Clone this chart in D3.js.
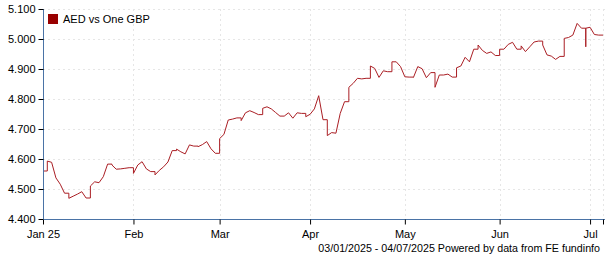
<!DOCTYPE html>
<html>
<head>
<meta charset="utf-8">
<script src="https://cdn.jsdelivr.net/npm/d3@7"></script>
<style>
  body { margin: 0; background: #fff; }
  svg { display: block; }
  text { font-family: "Liberation Sans", Arial, sans-serif; font-size: 11px; fill: #000; }
</style>
</head>
<body>
<div id="chart"></div>
<script>
var width = 605,
  height = 260,
  plotLeft = 43,
  plotRight = 603,
  plotTop = 9,
  plotBottom = 219;

// first and last trading day shown
var firstDay = "2025-01-03",
  lastDay = "2025-07-04";

// AED per GBP, one value per weekday from firstDay to lastDay
var rates = [
  4.560, 4.593, 4.589, 4.537, 4.516, 4.486, 4.469, 4.476, 4.483, 4.491,
  4.470, 4.510, 4.524, 4.521, 4.541, 4.583, 4.580, 4.566, 4.567, 4.569,
  4.571, 4.552, 4.580, 4.591, 4.567, 4.558, 4.547, 4.562, 4.574, 4.590,
  4.628, 4.633, 4.624, 4.617, 4.647, 4.643, 4.641, 4.648, 4.658, 4.634,
  4.619, 4.668, 4.682, 4.730, 4.733, 4.737, 4.728, 4.754, 4.761, 4.755,
  4.748, 4.769, 4.774, 4.767, 4.755, 4.743, 4.743, 4.754, 4.736, 4.754,
  4.752, 4.741, 4.749, 4.767, 4.811, 4.731, 4.678, 4.688, 4.686, 4.752,
  4.791, 4.839, 4.852, 4.869, 4.867, 4.869, 4.910, 4.902, 4.872, 4.894,
  4.891, 4.924, 4.924, 4.908, 4.874, 4.873, 4.872, 4.908, 4.901, 4.871,
  4.888, 4.839, 4.880, 4.880, 4.883, 4.873, 4.904, 4.910, 4.939, 4.924,
  4.966, 4.980, 4.962, 4.952, 4.957, 4.945, 4.966, 4.966, 4.982, 4.989,
  4.966, 4.977, 4.958, 4.974, 4.990, 4.993, 4.980, 4.947, 4.943, 4.932,
  4.942, 5.002, 5.005, 5.013, 5.052, 5.036, 5.036, 5.039, 5.015, 5.013,
  5.013
];

// odd weekend quotes (drawn at the following Monday)
var weekendDates = ["2025-06-29"],
  weekendRates = [4.974];

var yTicks = [4.4, 4.5, 4.6, 4.7, 4.8, 4.9, 5.0, 5.1];
var monthLabels = ["Jan 25", "Feb", "Mar", "Apr", "May", "Jun", "Jul"];
var seriesName = "AED vs One GBP";
var footer = "03/01/2025 - 04/07/2025 Powered by data from FE fundinfo";

var parse = d3.timeParse("%Y-%m-%d");
var days = d3.timeDay.range(parse(firstDay), d3.timeDay.offset(parse(lastDay), 1))
  .filter(function (d) { return d.getDay() % 6 !== 0; });

var x = d3.scalePoint()
  .domain(days.map(function (d) { return +d; }))
  .range([plotLeft, plotRight]);

var y = d3.scaleLinear()
  .domain([4.4, 5.1])
  .range([plotBottom, plotTop]);

// first weekday of every month gets a tick
var monthStarts = days.filter(function (d, i) {
  return i === 0 || d.getMonth() !== days[i - 1].getMonth();
});
var xTicks = monthStarts.map(function (d, i) { return { day: d, label: monthLabels[i] }; });
xTicks.push({ day: days[days.length - 1], label: "" });

// build line points; the weekend holds Friday's rate until Monday
var points = [];
days.forEach(function (d, i) {
  if (i > 0 && d.getDay() === 1) {
    points.push([x(+d), y(rates[i - 1])]);
    weekendDates.forEach(function (w, j) {
      var gap = d3.timeDay.count(parse(w), d);
      if (gap > 0 && gap < 3) {
        points.push([x(+d), y(weekendRates[j])]);
      }
    });
  }
  points.push([x(+d), y(rates[i])]);
});

var svg = d3.select("#chart").append("svg")
  .attr("width", width)
  .attr("height", height);

// grid
var grid = svg.append("g").attr("id", "grid")
  .attr("stroke", "#e6e6e6")
  .attr("stroke-dasharray", "2,3")
  .attr("shape-rendering", "crispEdges");

grid.selectAll("line.h")
  .data(yTicks.slice(1))
  .enter().append("line")
  .attr("class", "h")
  .attr("x1", plotLeft)
  .attr("x2", width)
  .attr("y1", function (d) { return Math.round(y(d)) + 0.5; })
  .attr("y2", function (d) { return Math.round(y(d)) + 0.5; });

grid.selectAll("line.v")
  .data(xTicks.slice(1))
  .enter().append("line")
  .attr("class", "v")
  .attr("x1", function (d) { return Math.round(x(+d.day)) + 0.5; })
  .attr("x2", function (d) { return Math.round(x(+d.day)) + 0.5; })
  .attr("y1", plotTop)
  .attr("y2", plotBottom);

// series line
svg.append("path")
  .datum(points)
  .attr("fill", "none")
  .attr("stroke", "#aa1e24")
  .attr("stroke-width", 1)
  .attr("stroke-linejoin", "round")
  .attr("d", d3.line());

// y axis
var yAxis = svg.append("g")
  .attr("transform", "translate(" + (plotLeft + 0.5) + ",0)")
  .call(d3.axisLeft(y).tickValues(yTicks).tickFormat(d3.format(".3f")).tickSize(5).tickSizeOuter(0));

// x axis
var xAxis = svg.append("g")
  .attr("transform", "translate(0," + (plotBottom + 0.5) + ")")
  .call(d3.axisBottom(x)
    .tickValues(xTicks.map(function (d) { return +d.day; }))
    .tickFormat(function (d, i) { return xTicks[i].label; })
    .tickSize(5)
    .tickSizeOuter(0));

[yAxis, xAxis].forEach(function (a) {
  a.select(".domain").attr("stroke", "#4a73a6");
  a.selectAll(".tick line").attr("stroke", "#000");
  a.selectAll("text").attr("font-family", null).attr("font-size", null).attr("fill", "#000");
});
xAxis.select(".domain").attr("d", "M" + plotLeft + ",0H" + width);
yAxis.select(".domain").attr("d", "M0," + plotTop + "V" + plotBottom);
yAxis.selectAll(".tick text").attr("x", -8);
xAxis.selectAll(".tick text").attr("y", 11);

// legend
var legend = svg.append("g").attr("transform", "translate(48,14)");
legend.append("rect")
  .attr("width", 10)
  .attr("height", 10)
  .attr("fill", "#990000");
legend.append("text")
  .attr("x", 15)
  .attr("y", 9)
  .text(seriesName);

svg.append("text")
  .attr("x", 600)
  .attr("y", 252)
  .attr("text-anchor", "end")
  .style("font-size", "10.7px")
  .text(footer);
</script>
</body>
</html>
